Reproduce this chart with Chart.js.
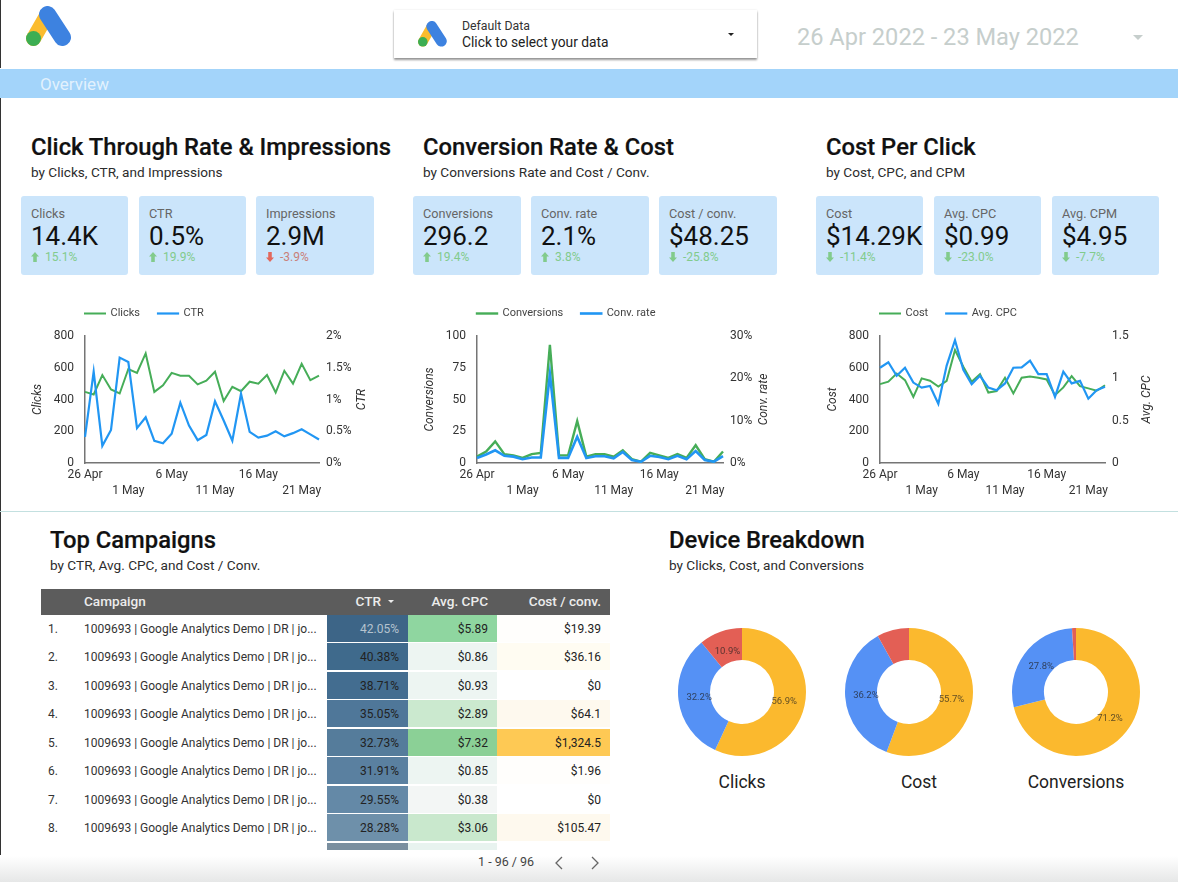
<!DOCTYPE html>
<html><head><meta charset="utf-8"><title>Google Ads Overview</title>
<script src="https://cdn.jsdelivr.net/npm/chart.js@4/dist/chart.umd.js"></script>
<style>
html,body{margin:0;padding:0;background:#fff;font-family:Roboto,sans-serif;overflow:hidden}
#page{position:relative;width:1178px;height:882px;overflow:hidden;background:#fff;filter:blur(.3px)}
.a{position:absolute;white-space:nowrap;line-height:1}
.h{font-size:23.8px;font-weight:500;color:#111;-webkit-text-stroke:.2px #111}
.s{font-size:13.6px;color:#2c2c2c}
.card{position:absolute;top:196px;height:79px;background:#cbe5fb;border-radius:3px}
.card .l{position:absolute;left:10px;top:12px;font-size:12.7px;color:#666;line-height:1;white-space:nowrap}
.card .v{position:absolute;left:10px;top:27px;font-size:26px;color:#111;line-height:1;white-space:nowrap}
.card .d{position:absolute;left:24px;top:55px;font-size:12px;line-height:1;white-space:nowrap}
canvas{position:absolute;display:block}
.cell{position:absolute;font-size:12px;line-height:28px;height:27px;white-space:nowrap;box-sizing:border-box}
.r{text-align:right;padding-right:9px}
</style></head><body><div id="page"></div>
<script>
const dates=['26 Apr','27 Apr','28 Apr','29 Apr','30 Apr','1 May','2 May','3 May','4 May','5 May','6 May','7 May','8 May','9 May','10 May','11 May','12 May','13 May','14 May','15 May','16 May','17 May','18 May','19 May','20 May','21 May','22 May','23 May'];
const clicks=[448,432,554,463,438,592,568,690,448,490,568,550,550,495,518,575,390,480,452,512,500,554,444,581,500,625,522,550];
const ctr=[0.41,1.44,0.27,0.52,1.66,1.59,0.55,0.72,0.35,0.31,0.46,0.95,0.59,0.36,0.44,0.97,0.67,0.35,1.09,0.49,0.40,0.43,0.50,0.42,0.47,0.53,0.45,0.37];
const conversions=[5,9,17,7,6,4,7,8,93,6,6,33,5,7,7,5,10,3,1,8,6,4,7,4,14,3,1,9];
const convRate=[1.2,2,3,1.7,1.5,0.9,1.3,1.3,21,1.2,1.2,6.2,1.2,1.6,1.6,1.1,2.6,0.7,0.3,1.7,1.4,0.9,1.7,0.9,2.8,0.7,0.3,1.6];
const cost=[497,512,564,522,417,533,518,482,518,712,606,512,560,444,453,537,438,537,545,537,526,427,476,547,484,470,455,490];
const avgCpc=[1.125,1.19,1.03,1.125,0.95,0.89,0.91,0.70,1.15,1.45,1.10,0.93,1.03,0.89,0.86,0.94,1.125,1.13,1.21,1.05,1.05,0.78,1.08,0.94,0.97,0.76,0.86,0.90];
const deviceClicks=[56.9,32.2,10.9];
const deviceCost=[55.7,36.2,8.1];
const deviceConversions=[71.2,27.8,1.0];
const deviceNames=['Mobile','Desktop','Tablet'];
const campaignName='1009693 | Google Analytics Demo | DR | jo...';
const tableCtr=['42.05%','40.38%','38.71%','35.05%','32.73%','31.91%','29.55%','28.28%'];
const tableCpc=['$5.89','$0.86','$0.93','$2.89','$7.32','$0.85','$0.38','$3.06'];
const tableCost=['$19.39','$36.16','$0','$64.1','$1,324.5','$1.96','$0','$105.47'];
const ctrShades=['#3d6587','#3f6a8c','#436d90','#4f7799','#557c9b','#5a80a0','#6489a7','#6e90aa','#7a8f9f'];
const cpcShades=['#8fd6a0','#edf5f2','#edf5f2','#cbe9cf','#8bd096','#edf5f2','#f3f6f5','#c9e8cd','#e8f3ef'];
const costShades=['#fffefc','#fffcf2','#ffffff','#fef9ee','#fec954','#fffefc','#ffffff','#fef9ee','#fffefc'];
const kpiGroups=[
 [[21,107,'Clicks','14.4K','15.1%',1],[139,107,'CTR','0.5%','19.9%',1],[256,118,'Impressions','2.9M','-3.9%',-1]],
 [[413,108,'Conversions','296.2','19.4%',1],[531,118,'Conv. rate','2.1%','3.8%',1],[659,118,'Cost / conv.','$48.25','-25.8%',2]],
 [[816,107,'Cost','$14.29K','-11.4%',2],[934,107,'Avg. CPC','$0.99','-23.0%',2],[1052,107,'Avg. CPM','$4.95','-7.7%',2]]
];
const page=document.getElementById('page');
function el(tag,cls,style,text,parent){const e=document.createElement(tag);if(cls)e.className=cls;if(style)e.style.cssText=style;if(text!=null)e.textContent=text;(parent||page).appendChild(e);return e;}
function logo(x,y,scale){
 const w=document.createElement('div');w.style.cssText=`position:absolute;left:${x}px;top:${y}px;width:${45*scale}px;height:${40*scale}px`;
 w.innerHTML=`<svg width="${45*scale}" height="${40*scale}" viewBox="0 0 45 40"><line x1="21" y1="9" x2="7.5" y2="32.5" stroke="#fbbc2e" stroke-width="15" stroke-linecap="round"/><line x1="21.5" y1="8.5" x2="36.5" y2="31.5" stroke="#3d82e0" stroke-width="17" stroke-linecap="round"/><circle cx="7.5" cy="32.5" r="7.5" fill="#3cae53"/></svg>`;
 page.appendChild(w);
}
// frame
el('div','','position:absolute;left:0;top:0;width:1px;height:68px;background:#333');
el('div','','position:absolute;left:0;top:98px;width:1px;height:757px;background:#333');
el('div','','position:absolute;left:0;top:69px;width:1178px;height:29px;background:#a3d4fa');
el('div','a','left:40px;top:76px;font-size:17px;color:rgba(255,255,255,.7)','Overview');
el('div','','position:absolute;left:0;top:511px;width:1178px;height:1px;background:#c3e0e0');
el('div','','position:absolute;left:0;top:856px;width:1178px;height:26px;background:linear-gradient(#fff,#e6e7e7)');
logo(26,6,1);
// selector
el('div','','position:absolute;left:394px;top:10px;width:363px;height:48px;background:#fff;box-shadow:0 1.5px 2px rgba(0,0,0,.4),0 0 2px rgba(0,0,0,.1)');
logo(418,21,.64);
el('div','a','left:462px;top:20px;font-size:12.3px;color:#333','Default Data');
el('div','a','left:462px;top:36px;font-size:13.8px;color:#222','Click to select your data');
el('div','','position:absolute;left:728px;top:32.5px;width:0;height:0;border-left:3px solid transparent;border-right:3px solid transparent;border-top:3.5px solid #222');
el('div','a','left:797px;top:26px;font-size:23.6px;color:#c6cecc','26 Apr 2022 - 23 May 2022');
el('div','','position:absolute;left:1133px;top:35px;width:0;height:0;border-left:5px solid transparent;border-right:5px solid transparent;border-top:5px solid #c6cecc');
// headings
[[31,'Click Through Rate & Impressions','by Clicks, CTR, and Impressions'],[423,'Conversion Rate & Cost','by Conversions Rate and Cost / Conv.'],[826,'Cost Per Click','by Cost, CPC, and CPM']].forEach(h=>{
 el('div','a h',`left:${h[0]}px;top:135.5px`,h[1]);
 el('div','a s',`left:${h[0]}px;top:166px`,h[2]);
});
[[50,'Top Campaigns','by CTR, Avg. CPC, and Cost / Conv.'],[669,'Device Breakdown','by Clicks, Cost, and Conversions']].forEach(h=>{
 el('div','a h',`left:${h[0]}px;top:528.5px`,h[1]);
 el('div','a s',`left:${h[0]}px;top:559px`,h[2]);
});
// KPI cards
kpiGroups.flat().forEach(k=>{
 const c=el('div','card',`left:${k[0]}px;width:${k[1]}px`);
 el('div','l','',k[2],c);el('div','v','',k[3],c);
 const col=k[5]===-1?'#e2685c':'#82cb8c';
 el('div','d',`color:${k[5]===-1?'#c97f78':'#82cb8c'}`,k[4],c);
 const up=k[5]===1;
 const arrow=document.createElement('div');
 arrow.innerHTML=`<svg width="8" height="10" viewBox="0 0 9 11" style="position:absolute;left:0;top:0"><path fill="${col}" d="${up?'M4.5 0 L9 5 L6.5 5 L6.5 11 L2.5 11 L2.5 5 L0 5 Z':'M4.5 11 L9 6 L6.5 6 L6.5 0 L2.5 0 L2.5 6 L0 6 Z'}"/></svg>`;
 arrow.style.cssText='position:absolute;left:10px;top:56px;width:8px;height:10px';
 c.appendChild(arrow);
});
// table
el('div','','position:absolute;left:41px;top:589px;width:569px;height:26px;background:#5c5c5c');
const hc='position:absolute;top:589px;line-height:25px;font-size:13.6px;font-weight:500;color:#ececec;white-space:nowrap;';
el('div','',hc+'left:84px','Campaign');
el('div','',hc+'right:797px','CTR');
el('div','','position:absolute;left:388px;top:600px;width:0;height:0;border-left:3px solid transparent;border-right:3px solid transparent;border-top:3.5px solid #ececec');
el('div','',hc+'right:690px','Avg. CPC');
el('div','',hc+'right:577px','Cost / conv.');
tableCtr.forEach((v,i)=>{
 const y=615+i*28.43;
 el('div','cell',`left:48px;top:${y}px`,(i+1)+'.').style.color='#333';
 el('div','cell',`left:84px;top:${y}px;color:#333`,campaignName);
 el('div','cell r',`left:327px;top:${y}px;width:81px;background:${ctrShades[i]};color:${i===0?'#b5c3cf':'#222'}`,v);
 el('div','cell r',`left:408px;top:${y}px;width:89px;background:${cpcShades[i]};color:#222`,tableCpc[i]);
 el('div','cell r',`left:497px;top:${y}px;width:113px;background:${costShades[i]};color:#222`,tableCost[i]);
});
el('div','',`position:absolute;left:327px;top:842.5px;width:81px;height:7.5px;background:${ctrShades[8]}`);
el('div','',`position:absolute;left:408px;top:842.5px;width:89px;height:7.5px;background:${cpcShades[8]}`);
el('div','a','left:478px;top:856px;font-size:12.5px;color:#444','1 - 96 / 96');
const pager=document.createElement('div');
pager.style.cssText='position:absolute;left:552px;top:855px';
pager.innerHTML='<svg width="50" height="15"><path d="M10 2 L4 8 L10 14 M40 2 L46 8 L40 14" fill="none" stroke="#666" stroke-width="1.3"/></svg>';
page.appendChild(pager);
// doughnut captions
[[742,'Clicks'],[919,'Cost'],[1076,'Conversions']].forEach(c=>{
 el('div','a',`left:${c[0]-80}px;width:160px;text-align:center;top:774px;font-size:17.5px;color:#222`,c[1]);
});
// charts
Chart.defaults.font.family='Roboto';
Chart.defaults.animation=false;
const green='#46ad58',blue='#2196f3';
const LEGEND_H=47;
const legendShift={id:'legendShift',
 beforeLayout(chart){const l=chart.legend;if(l&&!l._patched){const f=l.fit;l.fit=function(){f.call(this);this.height=LEGEND_H;};l._patched=true;}},
 afterLayout(chart){const l=chart.legend;const w=l.right-l.left;l.left=chart.chartArea.left-18;l.right=l.left+w;l.top+=1;l.bottom+=1;},
 afterDraw(chart){ // right-hand axis title, reading upward as in the source
  const s=chart.scales.y1,ctx=chart.ctx,t=chart.options.plugins.rightTitle;
  ctx.save();ctx.translate(s.right-18,(s.top+s.bottom)/2);ctx.rotate(-Math.PI/2);
  ctx.font='italic 12px Roboto';ctx.fillStyle='#333';ctx.textAlign='center';ctx.textBaseline='middle';
  ctx.fillText(t.text,0,0);ctx.restore();}
};
function lineChart(cfg){
 const cv=el('canvas','',`left:${cfg.left}px;top:289px`);
 cv.width=cfg.right-cfg.left;cv.height=214;cv.style.width=cv.width+'px';cv.style.height='214px';
 const tickFont={size:12,lineHeight:1.34};
 new Chart(cv,{type:'line',plugins:[legendShift],data:{labels:dates,datasets:[
  {label:cfg.n1,data:cfg.d1,yAxisID:'y',borderColor:green,backgroundColor:green,borderWidth:cfg.w1||2,pointRadius:0,tension:0,order:2},
  {label:cfg.n2,data:cfg.d2,yAxisID:'y1',borderColor:blue,backgroundColor:blue,borderWidth:cfg.w2||2.2,pointRadius:0,tension:0,order:1}
 ]},options:{responsive:false,maintainAspectRatio:false,layout:{padding:0},
  plugins:{rightTitle:{text:cfg.n2},tooltip:{enabled:false},legend:{display:true,position:'top',align:'start',labels:{boxWidth:20,boxHeight:.01,padding:18,color:'#444',font:{size:11},sort:(a,b)=>a.datasetIndex-b.datasetIndex}}},
  scales:{
   x:{grid:{display:false,drawTicks:false},border:{display:true,color:'#757575',width:1.5},
      afterFit(s){s.height=40;},
      ticks:{autoSkip:false,maxRotation:0,minRotation:0,padding:4,color:'#333',font:tickFont,
        callback(v,i){const t=this.getLabelForValue(v);return i%5?null:(i%10===0?[t,'']:['',t]);}}},
   y:{position:'left',min:0,max:cfg.max1,grid:{display:false,drawTicks:false},border:{display:true,color:'#757575',width:1.5},
      afterFit(s){s.width=cfg.wl;},
      title:{display:true,text:cfg.n1,font:{size:12,style:'italic'},color:'#333',padding:{top:11,bottom:0}},
      ticks:{stepSize:cfg.step1,padding:11,color:'#333',font:{size:12}}},
   y1:{position:'right',min:0,max:cfg.max2,grid:{display:false,drawTicks:false},border:{display:false},
      afterFit(s){s.width=cfg.wr;},
      ticks:{stepSize:cfg.step2,padding:7,color:'#333',font:{size:12},callback(v){return cfg.pct?v+'%':v;}}}
  }}});
}
lineChart({left:20,right:380,wl:65,wr:61,n1:'Clicks',n2:'CTR',d1:clicks,d2:ctr,max1:800,step1:200,max2:2,step2:.5,pct:true});
lineChart({left:412,right:782,wl:65,wr:59,n1:'Conversions',n2:'Conv. rate',d1:conversions,d2:convRate,max1:100,step1:25,max2:30,step2:10,pct:true,w1:2.4,w2:2.6});
lineChart({left:815,right:1165,wl:65,wr:60,n1:'Cost',n2:'Avg. CPC',d1:cost,d2:avgCpc,max1:800,step1:200,max2:1.5,step2:.5,pct:false});
const sliceLabels={id:'sliceLabels',afterDatasetsDraw(chart){
 const ctx=chart.ctx,meta=chart.getDatasetMeta(0),data=chart.data.datasets[0].data;
 ctx.save();ctx.font='9.5px Roboto';ctx.fillStyle='rgba(30,30,30,.72)';ctx.textAlign='center';ctx.textBaseline='middle';
 meta.data.forEach((a,i)=>{if(data[i]<10)return;
  const mid=(a.startAngle+a.endAngle)/2,r=a.innerRadius+(a.outerRadius-a.innerRadius)*.35;
  ctx.fillText(data[i].toFixed(1)+'%',a.x+Math.cos(mid)*r,a.y+Math.sin(mid)*r);});
 ctx.restore();}};
[[742,deviceClicks],[909,deviceCost],[1076,deviceConversions]].forEach(d=>{
 const cv=el('canvas','',`left:${d[0]-66}px;top:626px`);
 cv.width=132;cv.height=132;cv.style.width='132px';cv.style.height='132px';
 new Chart(cv,{type:'doughnut',plugins:[sliceLabels],data:{labels:deviceNames,datasets:[{data:d[1],backgroundColor:['#fbb92e','#5591f5','#e35f55'],borderWidth:0}]},
  options:{responsive:false,cutout:'50%',layout:{padding:2},plugins:{legend:{display:false},tooltip:{enabled:false}}}});
});
</script></body></html>
